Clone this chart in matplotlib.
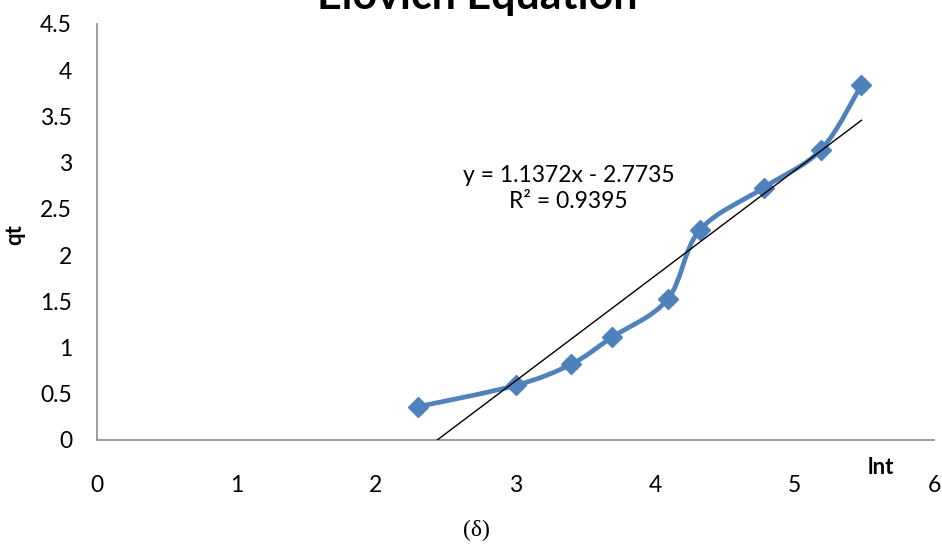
import numpy as np
import matplotlib
matplotlib.use("Agg")
import matplotlib.pyplot as plt
from matplotlib.path import Path
from matplotlib.patches import PathPatch

# data
lnt = [2.30, 3.00, 3.40, 3.69, 4.09, 4.32, 4.78, 5.19, 5.48]
qt = [0.36, 0.59, 0.82, 1.11, 1.52, 2.27, 2.73, 3.14, 3.84]
slope = 1.1372
intercept = -2.7735
r2 = 0.9395
xticks = [0, 1, 2, 3, 4, 5, 6]
yticks = [0, 0.5, 1, 1.5, 2, 2.5, 3, 3.5, 4, 4.5]

blue = '#4F81BD'
plt.rcParams['font.family'] = ['Lato', 'DejaVu Sans']

fig = plt.figure(figsize=(9.42, 5.45), dpi=100)
ax = fig.add_axes([97 / 942, 1 - 440 / 545, 837 / 942, 416 / 545])

# excel style smoothed line: catmull-rom segments as cubic beziers
pts = np.column_stack([lnt, qt])
padded = np.vstack([pts[0], pts, pts[-1]])
verts = [pts[0]]
codes = [Path.MOVETO]
for i in range(len(pts) - 1):
    p0, p1, p2, p3 = padded[i], padded[i + 1], padded[i + 2], padded[i + 3]
    verts += [p1 + (p2 - p0) / 6, p2 - (p3 - p1) / 6, p2]
    codes += [Path.CURVE4] * 3
ax.add_patch(PathPatch(Path(verts, codes), fill=False, edgecolor=blue,
                       lw=3.4, capstyle='round', joinstyle='round', zorder=2))
ax.plot(lnt, qt, linestyle='none', marker='D', markersize=10,
        color=blue, zorder=3)

# linear trendline
xl = np.array([lnt[0], lnt[-1]])
ax.plot(xl, slope * xl + intercept, color='black', lw=1.0, zorder=4)

ax.set_xlim(0, 6)
ax.set_ylim(0, 4.5)
ax.set_xticks(xticks)
ax.set_yticks(yticks)
ax.set_yticklabels([f'{v:g}' for v in yticks])
ax.tick_params(axis='both', length=0, labelsize=16.5)
ax.tick_params(axis='y', pad=18)
ax.tick_params(axis='x', pad=25)
for s in ['top', 'right']:
    ax.spines[s].set_visible(False)
for s in ['left', 'bottom']:
    ax.spines[s].set_color('#8c8c8c')
    ax.spines[s].set_linewidth(1.2)

ax.text(3.38, 2.72, f'y = {slope}x - {abs(intercept)}\nR² = {r2}',
        fontsize=16.5, ha='center', va='center', linespacing=1.3)

fig.text(15 / 942, 1 - 235 / 545, 'qt', rotation=90, fontsize=16,
         fontweight='bold', ha='center', va='center')
fig.text(881 / 942, 1 - 468 / 545, 'lnt', fontsize=16,
         fontweight='bold', ha='center', va='center')
fig.text(477 / 942, 1 - 8.5 / 545, 'Elovich Equation', fontsize=31,
         fontweight='bold', ha='center', va='baseline')
fig.text(476 / 942, 1 - 530 / 545, '(δ)', fontsize=17,
         family='Liberation Serif', ha='center', va='center')

fig.savefig('out.png', dpi=100)
